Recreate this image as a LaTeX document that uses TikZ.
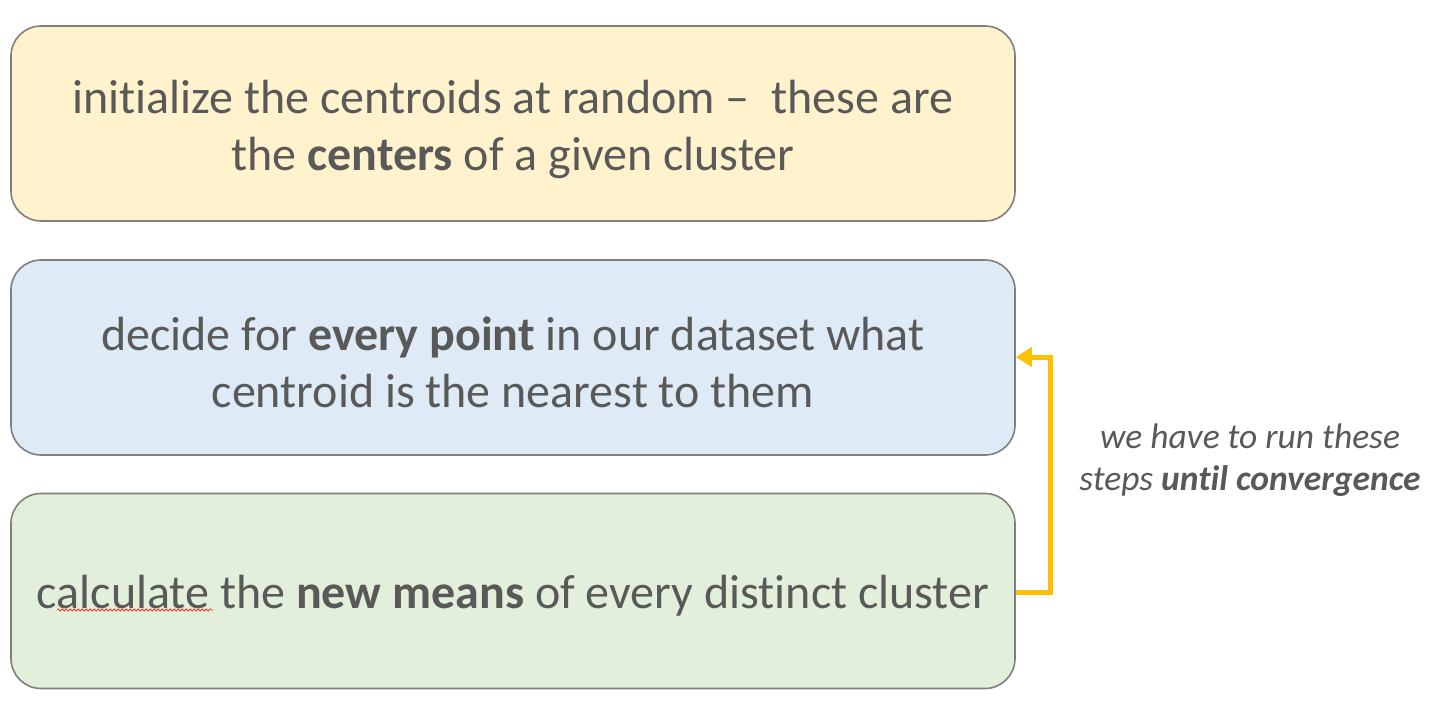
\documentclass[tikz,border=0pt]{standalone}
\usepackage{fontspec}
\setmainfont{Carlito}[Ligatures={NoCommon,TeX}]
\usetikzlibrary{arrows.meta,decorations.pathmorphing}
\definecolor{txt}{HTML}{595959}
\definecolor{bord}{HTML}{7F7F7F}
\definecolor{fyel}{HTML}{FFF2CC}
\definecolor{fblu}{HTML}{DEEBF7}
\definecolor{fgrn}{HTML}{E2EFDA}
\definecolor{loop}{HTML}{FFC000}
\begin{document}
\begin{tikzpicture}[x=1pt,y=-1pt,
  stepbox/.style={draw=bord,line width=1.6pt,rounded corners=30pt,
    minimum width=1004pt,minimum height=195pt,inner sep=0pt},
  boxtext/.style={align=center,text=txt,inner sep=0pt,font=\fontsize{48}{57}\selectfont},
  note/.style={text=txt,align=center,font=\fontsize{35.5}{42}\selectfont\itshape},
  looparrow/.style={draw=loop,line width=5pt,-{Triangle[length=16pt,width=19pt]}}]
\useasboundingbox (0,0) rectangle (1434,708);
\node[stepbox,fill=fyel] (b1) at (513,123.5) {};
\node[stepbox,fill=fblu] (b2) at (513,357.5) {};
\node[stepbox,fill=fgrn] (b3) at (513,591) {};
\node[boxtext] (t1) at ([yshift=-6pt]b1.center) {initialize the centroids at random --\ \ these are\\the \textbf{centers} of a given cluster};
\node[boxtext] (t2) at ([yshift=-5pt]b2.center) {decide for \textbf{every point} in our dataset what\\centroid is the nearest to them};
\node[boxtext] (t3) at ([yshift=-5pt]b3.center) {calculate the \textbf{new means} of every distinct cluster};
\coordinate (c3) at (1050,592);
\coordinate (c2) at (1050,357);
\draw[looparrow] (b3.east |- c3) -- (c3) -- (c2) -- (b2.east |- c2);
\node[note] (n) at (1250,460) {we have to run these\\steps \textbf{until convergence}};
\coordinate (s1) at (57,610);
\coordinate (s2) at (213,610);
\draw[red!80,line width=0.8pt,decorate,decoration={snake,amplitude=1pt,segment length=4pt}] (s1) -- (s2);
\end{tikzpicture}
\end{document}
